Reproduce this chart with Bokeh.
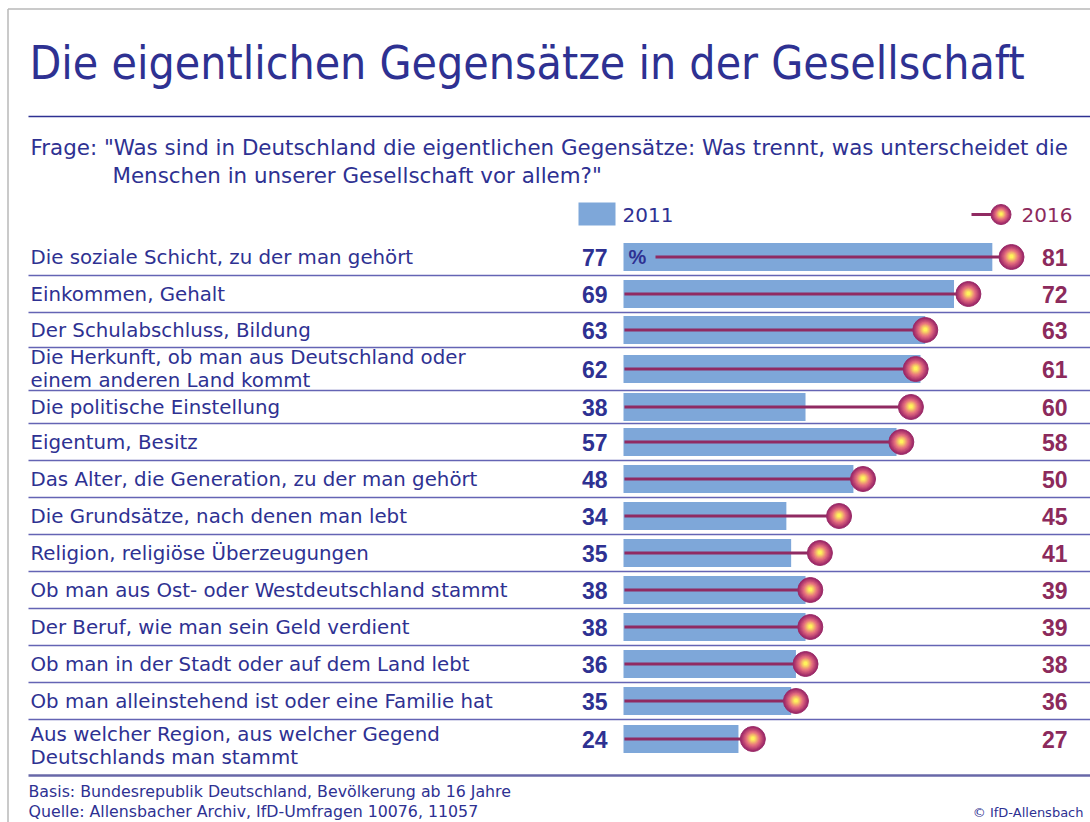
from bokeh.plotting import figure
from bokeh.models import Range1d
from bokeh.embed import file_html
from bokeh.resources import INLINE
from bokeh.core.properties import value

# ---------------- data ----------------
labels = [
    "Die soziale Schicht, zu der man gehört",
    "Einkommen, Gehalt",
    "Der Schulabschluss, Bildung",
    "Die Herkunft, ob man aus Deutschland oder\neinem anderen Land kommt",
    "Die politische Einstellung",
    "Eigentum, Besitz",
    "Das Alter, die Generation, zu der man gehört",
    "Die Grundsätze, nach denen man lebt",
    "Religion, religiöse Überzeugungen",
    "Ob man aus Ost- oder Westdeutschland stammt",
    "Der Beruf, wie man sein Geld verdient",
    "Ob man in der Stadt oder auf dem Land lebt",
    "Ob man alleinstehend ist oder eine Familie hat",
    "Aus welcher Region, aus welcher Gegend\nDeutschlands man stammt",
]
v2011 = [77, 69, 63, 62, 38, 57, 48, 34, 35, 38, 38, 36, 35, 24]
v2016 = [81, 72, 63, 61, 60, 58, 50, 45, 41, 39, 39, 38, 36, 27]
series_names = ["2011", "2016"]

title = "Die eigentlichen Gegensätze in der Gesellschaft"
question1 = 'Frage:  "Was sind in Deutschland die eigentlichen Gegensätze: Was trennt, was unterscheidet die'
question2 = 'Menschen in unserer Gesellschaft vor allem?"'
footer1 = "Basis: Bundesrepublik Deutschland, Bevölkerung ab 16 Jahre"
footer2 = "Quelle: Allensbacher Archiv, IfD-Umfragen 10076, 11057"
credit = "© IfD-Allensbach"

# ---------------- style / layout ----------------
NAVY = "#2e3192"
PURPLE = "#8c2a5c"
BAR = "#7ea7d9"
LINE = "#902a62"
SEP = "#6464b4"
FONT = "DejaVu Sans"
NUMFONT = "Liberation Sans"

W, H = 1090, 822
X0 = 623.0        # page x of value 0
SCALE = 4.79      # px per percent

p = figure(width=W, height=H, x_range=Range1d(0, W), y_range=Range1d(H, 0),
           output_backend="svg", toolbar_location=None,
           x_axis_type=None, y_axis_type=None, min_border=0)
p.outline_line_color = None
p.background_fill_color = "white"
p.border_fill_color = "white"
p.extra_x_ranges = {"val": Range1d((0 - X0) / SCALE, (W - X0) / SCALE)}

# frame (top / left)
p.segment(x0=[7.5, 7.5], y0=[8.5, 8.5], x1=[W, 7.5], y1=[8.5, H],
          line_color="#b8b8b8", line_width=1.5)

# title
p.text(x=[29], y=[62], text=[title], text_font=value("DejaVu Sans Condensed"),
       text_font_size="46px", text_color=NAVY, text_baseline="middle", text_align="left")
p.segment(x0=[28], y0=[116], x1=[W], y1=[116], line_color=NAVY, line_width=1.5)

# question
p.text(x=[30, 112], y=[147, 175], text=[question1, question2], text_font=value(FONT),
       text_font_size="21.4px", text_color=NAVY, text_baseline="middle", text_align="left")

# row layout
heights = [37, 37, 35, 43, 33, 37, 37, 37, 37, 37, 37, 37, 37, 39]
tops = []
t = 238.0
for h in heights:
    tops.append(t)
    t += h
centers = [tp + h / 2 for tp, h in zip(tops, heights)]
bottoms = [tp + h for tp, h in zip(tops, heights)]
label_y = list(centers)
label_y[-1] = centers[-1] + 7

# separators
n = len(labels)
p.segment(x0=[28] * (n - 1), y0=bottoms[:-1], x1=[W] * (n - 1), y1=bottoms[:-1],
          line_color=SEP, line_width=1.6)
p.segment(x0=[28], y0=[775], x1=[W], y1=[775], line_color="#6868a8", line_width=2.5)

# bars 2011
p.hbar(y=centers, left=0, right=v2011, height=28, x_range_name="val",
       fill_color=BAR, line_color=None)

# lines 2016
starts = [(655 - X0) / SCALE] + [0.2] * (n - 1)
p.segment(x0=starts, y0=centers, x1=v2016, y1=centers, x_range_name="val",
          line_color=LINE, line_width=3)


def gradient_marker(xs, ys, size, x_range_name="default"):
    outer = (156, 38, 104)
    mid = (230, 110, 128)
    inner = (255, 243, 92)
    steps = 12
    for i in range(steps):
        tt = i / (steps - 1)
        if tt < 0.5:
            a, b, u = outer, mid, tt / 0.5
        else:
            a, b, u = mid, inner, (tt - 0.5) / 0.5
        c = tuple(int(a[k] + (b[k] - a[k]) * u) for k in range(3))
        col = "#%02x%02x%02x" % c
        s = size * (1 - 0.85 * tt)
        kw = dict(x=xs, y=[yy - 0.6 * tt for yy in ys], size=s, fill_color=col, line_color=None)
        if i == 0:
            kw["line_color"] = "#9a2d68"
            kw["line_width"] = 1
        if x_range_name != "default":
            kw["x_range_name"] = x_range_name
        p.scatter(**kw)


gradient_marker(v2016, centers, 25, "val")

# labels
p.text(x=[30] * n, y=label_y, text=labels, text_font=value(FONT), text_font_size="19.8px",
       text_color=NAVY, text_baseline="middle", text_align="left", text_line_height=0.98)

# values
p.text(x=[607] * n, y=centers, text=[str(v) for v in v2011], text_font=value(NUMFONT),
       text_font_style="bold", text_font_size="23px", text_color=NAVY,
       text_baseline="middle", text_align="right")
p.text(x=[1067] * n, y=centers, text=[str(v) for v in v2016], text_font=value(NUMFONT),
       text_font_style="bold", text_font_size="23px", text_color=PURPLE,
       text_baseline="middle", text_align="right")
p.text(x=[628], y=[centers[0]], text=["%"], text_font=value(NUMFONT), text_font_style="bold",
       text_font_size="20px", text_color=NAVY, text_baseline="middle", text_align="left")

# legend
p.quad(left=[578], right=[615], top=[202], bottom=[225], fill_color=BAR, line_color=None)
p.text(x=[622], y=[214], text=[series_names[0]], text_font=value(FONT), text_font_size="20px",
       text_color=NAVY, text_baseline="middle", text_align="left")
p.segment(x0=[971], y0=[214], x1=[1000], y1=[214], line_color=LINE, line_width=3)
gradient_marker([1000.5], [214], 20)
p.text(x=[1021], y=[214], text=[series_names[1]], text_font=value(FONT), text_font_size="20px",
       text_color=PURPLE, text_baseline="middle", text_align="left")

# footer
p.text(x=[28, 28], y=[791, 811], text=[footer1, footer2], text_font=value(FONT),
       text_font_size="15.8px", text_color=NAVY, text_baseline="middle", text_align="left")
p.text(x=[1083], y=[812], text=[credit], text_font=value(FONT), text_font_size="13px",
       text_color=NAVY, text_baseline="middle", text_align="right")

open("out.html", "w").write(file_html(p, INLINE))
